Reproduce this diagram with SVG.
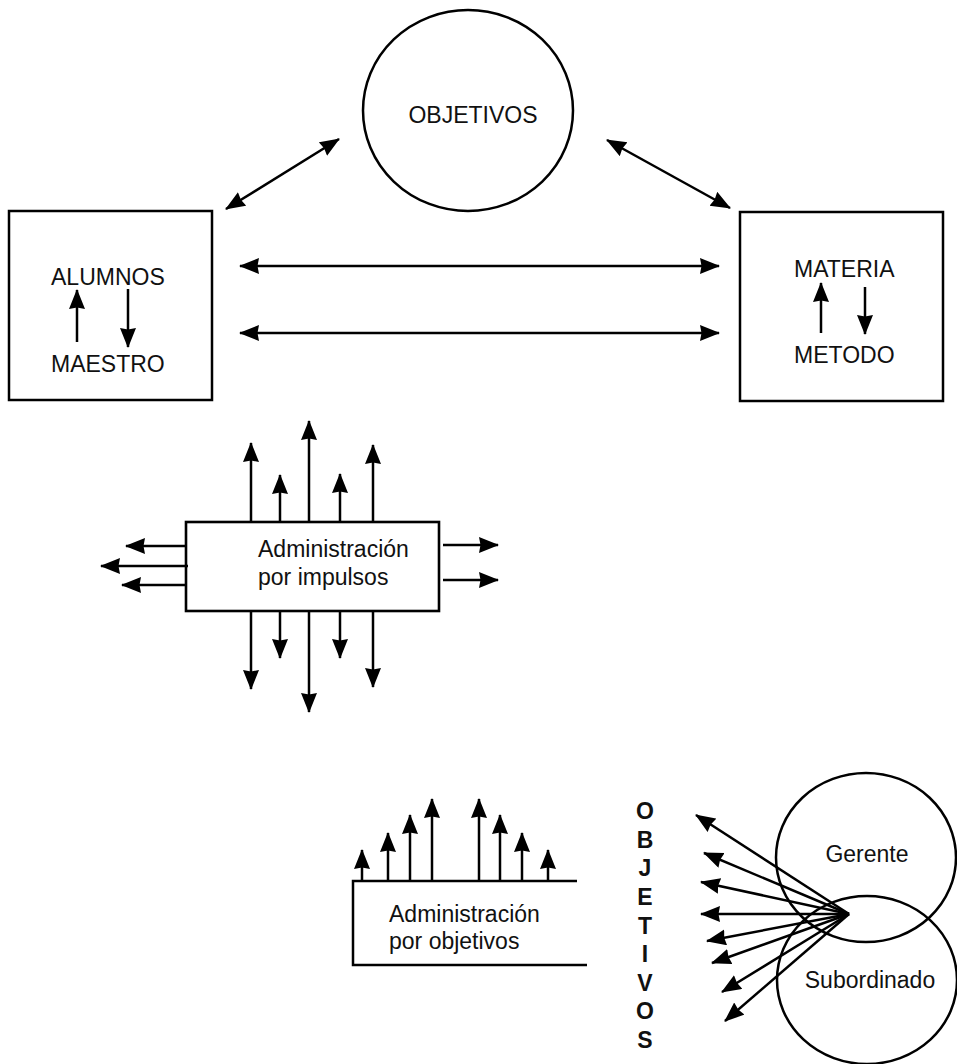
<svg xmlns="http://www.w3.org/2000/svg" width="957" height="1064" viewBox="0 0 957 1064">
  <style>
    .shape { fill: none; stroke: #000; stroke-width: 2.5; }
    .box { fill: #fff; stroke: #000; stroke-width: 2.6; }
    .lbl { font-family: "Liberation Sans", Arial, Helvetica, sans-serif; font-size: 23px; fill: #111; }
    .vert { font-family: "Liberation Sans", Arial, Helvetica, sans-serif; font-size: 23px; font-weight: bold; fill: #111; text-anchor: middle; }
    .arrow { fill: none; stroke: #000; stroke-width: 2.5; marker-end: url(#head); }
    .both { fill: none; stroke: #000; stroke-width: 2.5; marker-start: url(#head); marker-end: url(#head); }
  </style>
  <defs>
    <marker id="head" markerUnits="userSpaceOnUse" markerWidth="21" markerHeight="17" refX="19" refY="8" orient="auto-start-reverse">
      <path d="M0,0 L20,8 L0,16 L1.5,8 z" fill="#000"/>
    </marker>
  </defs>

  <rect width="957" height="1064" fill="#fff"/>

  <!-- Upper triad: objectives, students/teacher, subject/method -->
  <g id="objetivos">
    <ellipse class="shape" cx="468" cy="110.5" rx="105" ry="100.5"/>
    <text class="lbl" x="473" y="123" text-anchor="middle">OBJETIVOS</text>
  </g>
  <g id="alumnos-maestro">
    <rect class="shape" x="9" y="211" width="203" height="189"/>
    <text class="lbl" x="51" y="285">ALUMNOS</text>
    <text class="lbl" x="51" y="372">MAESTRO</text>
    <line class="arrow" x1="77" y1="342" x2="77" y2="290"/>
    <line class="arrow" x1="128" y1="289" x2="128" y2="347"/>
  </g>
  <g id="materia-metodo">
    <rect class="shape" x="740" y="212" width="203" height="189"/>
    <text class="lbl" x="794" y="277">MATERIA</text>
    <text class="lbl" x="794" y="363">METODO</text>
    <line class="arrow" x1="821" y1="333" x2="821" y2="283"/>
    <line class="arrow" x1="865" y1="287" x2="865" y2="334"/>
  </g>
  <g id="links-top">
    <line class="both" x1="226" y1="209" x2="339" y2="139"/>
    <line class="both" x1="607" y1="140" x2="730" y2="208"/>
    <line class="both" x1="240" y1="266" x2="719" y2="266"/>
    <line class="both" x1="240" y1="333" x2="719" y2="333"/>
  </g>

  <!-- Management by impulses: arrows scattering in every direction -->
  <g id="impulsos">
    <rect class="box" x="186" y="522" width="253" height="89"/>
    <text class="lbl" x="258" y="557">Administración</text>
    <text class="lbl" x="258" y="585">por impulsos</text>
  </g>
  <g id="impulsos-arrows">
    <line class="arrow" x1="251" y1="522" x2="251" y2="443"/>
    <line class="arrow" x1="280" y1="522" x2="280" y2="475"/>
    <line class="arrow" x1="309" y1="522" x2="309" y2="421"/>
    <line class="arrow" x1="340" y1="522" x2="340" y2="474"/>
    <line class="arrow" x1="373" y1="522" x2="373" y2="445"/>
    <line class="arrow" x1="251" y1="611" x2="251" y2="689"/>
    <line class="arrow" x1="280" y1="611" x2="280" y2="658"/>
    <line class="arrow" x1="309" y1="611" x2="309" y2="712"/>
    <line class="arrow" x1="340" y1="611" x2="340" y2="658"/>
    <line class="arrow" x1="373" y1="611" x2="373" y2="687"/>
    <line class="arrow" x1="186" y1="546" x2="126" y2="546"/>
    <line class="arrow" x1="188" y1="566" x2="101" y2="566"/>
    <line class="arrow" x1="186" y1="585" x2="122" y2="585"/>
    <line class="arrow" x1="443" y1="545" x2="498" y2="545"/>
    <line class="arrow" x1="443" y1="580" x2="498" y2="580"/>
  </g>

  <!-- Management by objectives: aligned arrows, shared goals -->
  <g id="por-objetivos">
    <path class="shape" d="M577,881 L353,881 L353,965 L587,965"/>
    <text class="lbl" x="389" y="922">Administración</text>
    <text class="lbl" x="389" y="949">por objetivos</text>
  </g>
  <g id="por-objetivos-arrows">
    <line class="arrow" x1="362" y1="881" x2="362" y2="850"/>
    <line class="arrow" x1="388" y1="881" x2="388" y2="833"/>
    <line class="arrow" x1="410" y1="881" x2="410" y2="815"/>
    <line class="arrow" x1="432" y1="881" x2="432" y2="799"/>
    <line class="arrow" x1="479" y1="881" x2="479" y2="799"/>
    <line class="arrow" x1="500" y1="881" x2="500" y2="815"/>
    <line class="arrow" x1="522" y1="881" x2="522" y2="833"/>
    <line class="arrow" x1="548" y1="881" x2="548" y2="850"/>
  </g>
  <g id="objetivos-vertical">
    <text class="vert" x="645" y="819">O</text>
    <text class="vert" x="645" y="847.6">B</text>
    <text class="vert" x="645" y="876.3">J</text>
    <text class="vert" x="645" y="904.9">E</text>
    <text class="vert" x="645" y="933.5">T</text>
    <text class="vert" x="645" y="962.1">I</text>
    <text class="vert" x="645" y="990.8">V</text>
    <text class="vert" x="645" y="1019.4">O</text>
    <text class="vert" x="645" y="1048">S</text>
  </g>
  <g id="gerente">
    <ellipse class="shape" cx="866" cy="857.5" rx="90" ry="84.5"/>
    <text class="lbl" x="867" y="862" text-anchor="middle">Gerente</text>
  </g>
  <g id="subordinado">
    <ellipse class="shape" cx="867" cy="980" rx="90" ry="84"/>
    <text class="lbl" x="870" y="988" text-anchor="middle">Subordinado</text>
  </g>
  <g id="fan">
    <line class="arrow" x1="849" y1="914" x2="696" y2="815"/>
    <line class="arrow" x1="849" y1="914" x2="704" y2="853"/>
    <line class="arrow" x1="849" y1="914" x2="701" y2="882"/>
    <line class="arrow" x1="849" y1="914" x2="701" y2="914"/>
    <line class="arrow" x1="849" y1="914" x2="707" y2="941"/>
    <line class="arrow" x1="849" y1="914" x2="712" y2="963"/>
    <line class="arrow" x1="849" y1="914" x2="722" y2="992"/>
    <line class="arrow" x1="849" y1="914" x2="725" y2="1021"/>
  </g>
</svg>
